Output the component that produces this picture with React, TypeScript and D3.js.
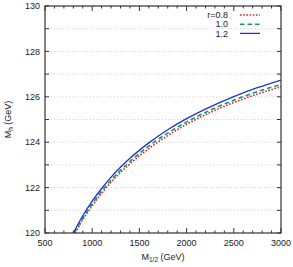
import React from "react";
import * as d3 from "d3";

const xTicksMajor = [500, 1000, 1500, 2000, 2500, 3000];
const yTicksMajor = [120, 122, 124, 126, 128, 130];
const yGrid = [121, 122, 123, 124, 125, 126, 127, 128, 129];

const m12Red = [820, 900, 1000, 1100, 1200, 1400, 1600, 1800, 2000, 2250, 2500, 2750, 3000];
const mhRed = [120.0, 120.58, 121.2, 121.75, 122.24, 123.05, 123.72, 124.29, 124.79, 125.31, 125.75, 126.12, 126.44];
const m12Green = [810, 900, 1000, 1100, 1200, 1400, 1600, 1800, 2000, 2250, 2500, 2750, 3000];
const mhGreen = [120.0, 120.66, 121.28, 121.84, 122.33, 123.15, 123.83, 124.4, 124.89, 125.41, 125.85, 126.23, 126.54];
const m12Blue = [800, 900, 1000, 1100, 1200, 1400, 1600, 1800, 2000, 2250, 2500, 2750, 3000];
const mhBlue = [120.0, 120.76, 121.4, 121.96, 122.46, 123.29, 123.97, 124.55, 125.04, 125.56, 126.01, 126.4, 126.74];

const seriesLabels = ["r=0.8", "1.0", "1.2"];

export default function App() {
  const W = 293, H = 267;
  const L = 45, R = 281, T = 6, B = 233;
  const x = d3.scaleLinear().domain([500, 3000]).range([L, R]);
  const y = d3.scaleLinear().domain([120, 130]).range([B, T]);
  const line = d3.line<[number, number]>().x(d => x(d[0])).y(d => y(d[1])).curve(d3.curveMonotoneX);
  const series = [
    { xs: m12Red, ys: mhRed, color: "#e8202a", dash: "1.6,1.6", w: 1.6 },
    { xs: m12Green, ys: mhGreen, color: "#0e9a6e", dash: "4.5,3", w: 1.6 },
    { xs: m12Blue, ys: mhBlue, color: "#1f2fd6", dash: "", w: 1.3 },
  ];
  const minor = d3.range(500, 3001, 100);
  const yTicksAll = d3.range(120, 131, 1);
  const font = "Liberation Sans, Arial, sans-serif";
  return (
    <svg width={W} height={H} style={{ position: "absolute", left: 0, top: 0 }} fontFamily={font}>
      <defs>
        <clipPath id="pc"><rect x={L} y={T} width={R - L} height={B - T} /></clipPath>
      </defs>
      <rect width={W} height={H} fill="white" />
      {yGrid.map(v => (
        <line key={v} x1={L} x2={R} y1={y(v)} y2={y(v)} stroke="#bbb" strokeWidth={0.7} strokeDasharray="1,2" />
      ))}
      <g clipPath="url(#pc)">
        {series.map((s, i) => (
          <path key={i} d={line(s.xs.map((v, j) => [v, s.ys[j]] as [number, number])) || ""} fill="none"
            stroke={s.color} strokeWidth={s.w} strokeDasharray={s.dash} />
        ))}
      </g>
      {minor.map(v => {
        const maj = v % 500 === 0;
        const len = maj ? 5 : 2.5;
        return (
          <g key={v}>
            <line x1={x(v)} x2={x(v)} y1={B} y2={B - len} stroke="#333" strokeWidth={1} />
            <line x1={x(v)} x2={x(v)} y1={T} y2={T + len} stroke="#333" strokeWidth={1} />
          </g>
        );
      })}
      {yTicksAll.map(v => (
        <g key={v}>
          <line x1={L} x2={L + 4} y1={y(v)} y2={y(v)} stroke="#333" strokeWidth={1} />
          <line x1={R} x2={R - 4} y1={y(v)} y2={y(v)} stroke="#333" strokeWidth={1} />
        </g>
      ))}
      <rect x={L} y={T} width={R - L} height={B - T} fill="none" stroke="#333" strokeWidth={1.2} />
      {yTicksMajor.map(v => (
        <text key={v} x={L - 5} y={y(v)} dy="0.35em" textAnchor="end" fontSize={9} fill="#222">{v}</text>
      ))}
      {xTicksMajor.map(v => (
        <text key={v} x={x(v)} y={B + 10} dy="0.35em" textAnchor="middle" fontSize={9} fill="#222">{v}</text>
      ))}
      <text x={(L + R) / 2} y={260} textAnchor="middle" fontSize={9} fill="#222">
        M<tspan fontSize={6.5} dy="2">1/2</tspan><tspan dy="-2"> (GeV)</tspan>
      </text>
      <text transform={`translate(11,${(T + B) / 2}) rotate(-90)`} textAnchor="middle" fontSize={9} fill="#222">
        M<tspan fontSize={6.5} dy="2">h</tspan><tspan dy="-2"> (GeV)</tspan>
      </text>
      {series.map((s, i) => {
        const ly = 15 + i * 9.2;
        return (
          <g key={i}>
            <text x={228} y={ly} dy="0.35em" textAnchor="end" fontSize={9} fill="#222">{seriesLabels[i]}</text>
            <line x1={240} x2={260} y1={ly} y2={ly} stroke={s.color} strokeWidth={s.w} strokeDasharray={s.dash} />
          </g>
        );
      })}
    </svg>
  );
}
